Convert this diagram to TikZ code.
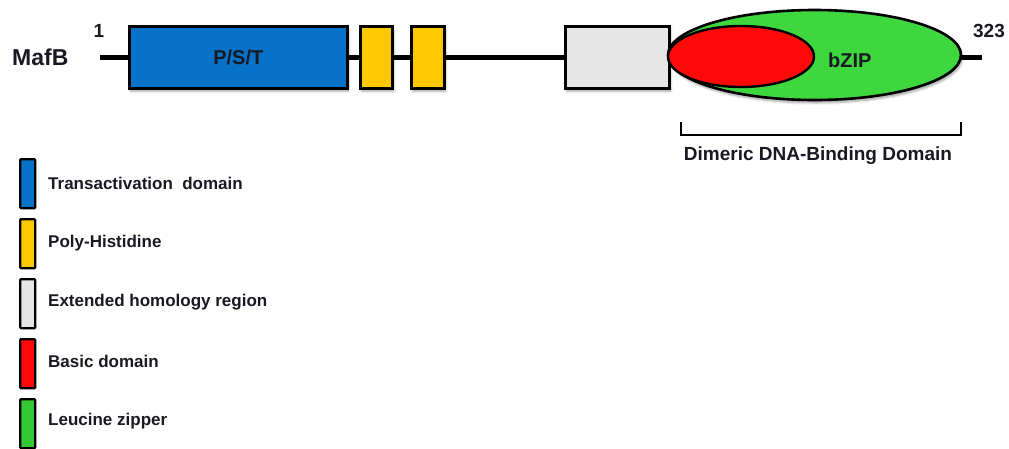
\documentclass[tikz,border=0pt]{standalone}
\usepackage{fontspec}
\setmainfont{Liberation Sans}
\usetikzlibrary{shapes.geometric,shadows.blur}
\definecolor{txt}{RGB}{25,25,35}
\definecolor{pblue}{RGB}{8,114,200}
\definecolor{pyellow}{RGB}{255,200,0}
\definecolor{pgray}{RGB}{230,230,230}
\definecolor{pred}{RGB}{255,8,8}
\definecolor{pgreen}{RGB}{62,216,62}
\definecolor{lgreen}{RGB}{52,200,52}
\tikzset{
  shd/.style={blur shadow={shadow xshift=1.5pt, shadow yshift=-3pt, shadow blur steps=6, shadow opacity=35}},
  dom/.style={draw=black, line width=2.6pt, inner sep=0pt, anchor=north west, shd},
  lab/.style={font=\bfseries\fontsize{20}{22}\selectfont, text=txt, inner sep=0pt},
  leg/.style={draw=black, line width=2.4pt, inner sep=0pt, anchor=north west,
    minimum width=15pt, minimum height=49pt, rounded corners=1pt},
  legtxt/.style={font=\bfseries\fontsize{17}{19}\selectfont, text=txt, inner sep=0pt, anchor=west},
}
\begin{document}
\begin{tikzpicture}[x=1pt,y=-1pt]
\useasboundingbox (0,0) rectangle (1009,448);
% backbone
\coordinate (start) at (100,57);
\coordinate (end) at (982,57);
\draw[line width=5pt] (start) -- (end);
% domains
\node[dom, fill=pblue, minimum width=218pt, minimum height=62pt] (pst) at (128,25) {};
\node[lab] at (pst.center) {P/S/T};
\node[dom, fill=pyellow, minimum width=32pt, minimum height=62pt] (his1) at (359,25) {};
\node[dom, fill=pyellow, minimum width=33pt, minimum height=62pt] (his2) at (410,25) {};
\node[dom, fill=pgray, minimum width=104pt, minimum height=62pt] (ehr) at (564,25) {};
\node[ellipse, draw=black, line width=2.6pt, fill=pgreen, minimum width=293pt, minimum height=90pt, inner sep=0pt, shd] (bzip) at (814.5,55) {};
\node[ellipse, draw=black, line width=2.4pt, fill=pred, minimum width=146pt, minimum height=61pt, inner sep=0pt] (basic) at (741,56.5) {};
\node[lab, anchor=west] (bziptxt) at (828,60) {bZIP};
% labels
\node[font=\bfseries\fontsize{23}{25}\selectfont, text=txt, inner sep=0pt, anchor=west] (mafb) at (12,57) {MafB};
\node[font=\bfseries\fontsize{19}{21}\selectfont, text=txt, inner sep=0pt] (one) at (99,31) {1};
\node[font=\bfseries\fontsize{19}{21}\selectfont, text=txt, inner sep=0pt] (last) at (989,31) {323};
% bracket
\coordinate (bl) at (681,122);
\coordinate (br) at (961,122);
\draw[line width=1.4pt] (bl) -- ++(0,13) -| (br);
\node[font=\bfseries\fontsize{19}{21}\selectfont, text=txt, inner sep=0pt] (ddbd) at (818,156) {Dimeric DNA-Binding Domain};
% legend
\node[leg, fill=pblue] (l1) at (19,158) {};
\node[legtxt] at (48,183) {Transactivation\ \ domain};
\node[leg, fill=pyellow] (l2) at (19,218) {};
\node[legtxt] at (48,243) {Poly-Histidine};
\node[leg, fill=pgray] (l3) at (19,278) {};
\node[legtxt] at (48,302) {Extended homology region};
\node[leg, fill=pred] (l4) at (19,338) {};
\node[legtxt] at (48,361) {Basic domain};
\node[leg, fill=lgreen] (l5) at (19,398) {};
\node[legtxt] at (48,421) {Leucine zipper};
\end{tikzpicture}
\end{document}
